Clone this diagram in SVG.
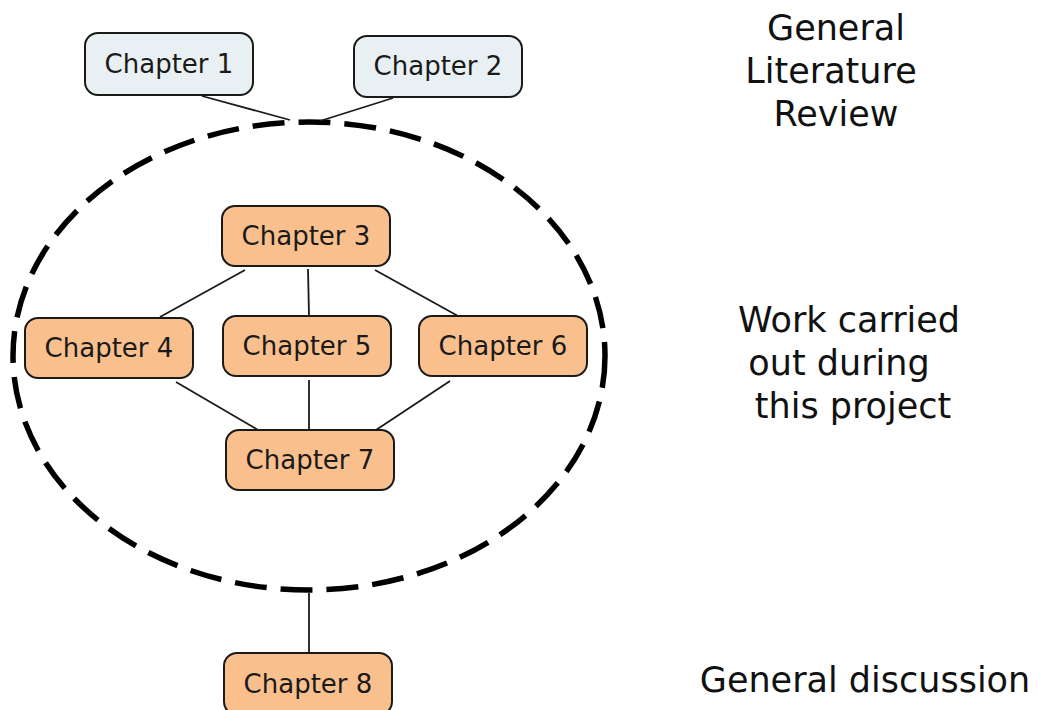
<svg xmlns="http://www.w3.org/2000/svg" width="1038" height="710" viewBox="0 0 1038 710">
  <style>
    .box { stroke: #1a1a1a; stroke-width: 2; }
    .lit { fill: #e9f0f3; }
    .work { fill: #f9c08e; }
    .lbl { font-family: "DejaVu Sans", Verdana, sans-serif; font-size: 26px; fill: #1a1a1a; text-anchor: middle; }
    .note { font-family: "DejaVu Sans", Verdana, sans-serif; font-size: 35px; fill: #111; text-anchor: middle; }
    .conn { stroke: #1a1a1a; stroke-width: 1.8; fill: none; }
  </style>
  <rect width="1038" height="710" fill="#ffffff"/>

  <!-- boundary of the project work -->
  <ellipse id="project-boundary" cx="309" cy="356" rx="296" ry="234" fill="none" stroke="#000" stroke-width="5.5" stroke-dasharray="32 14"/>

  <g id="connectors">
    <line class="conn" x1="202" y1="96" x2="290" y2="120"/>
    <line class="conn" x1="393" y1="98" x2="320" y2="121"/>
    <line class="conn" x1="245" y1="270" x2="160" y2="317"/>
    <line class="conn" x1="308" y1="269" x2="309" y2="316"/>
    <line class="conn" x1="375" y1="270" x2="458" y2="316"/>
    <line class="conn" x1="176" y1="382" x2="258" y2="430"/>
    <line class="conn" x1="309" y1="380" x2="309" y2="430"/>
    <line class="conn" x1="450" y1="381" x2="376" y2="430"/>
    <line class="conn" x1="309" y1="593" x2="309" y2="653"/>
  </g>

  <g id="chapter1">
    <rect class="box lit" x="85" y="33" width="168" height="62" rx="13"/>
    <text class="lbl" x="169" y="73">Chapter 1</text>
  </g>
  <g id="chapter2">
    <rect class="box lit" x="354" y="36" width="168" height="61" rx="13"/>
    <text class="lbl" x="438" y="75">Chapter 2</text>
  </g>
  <g id="chapter3">
    <rect class="box work" x="222" y="206" width="168" height="60" rx="13"/>
    <text class="lbl" x="306" y="245">Chapter 3</text>
  </g>
  <g id="chapter4">
    <rect class="box work" x="25" y="318" width="168" height="60" rx="13"/>
    <text class="lbl" x="109" y="357">Chapter 4</text>
  </g>
  <g id="chapter5">
    <rect class="box work" x="223" y="316" width="168" height="60" rx="13"/>
    <text class="lbl" x="307" y="355">Chapter 5</text>
  </g>
  <g id="chapter6">
    <rect class="box work" x="419" y="316" width="168" height="60" rx="13"/>
    <text class="lbl" x="503" y="355">Chapter 6</text>
  </g>
  <g id="chapter7">
    <rect class="box work" x="226" y="430" width="168" height="60" rx="13"/>
    <text class="lbl" x="310" y="469">Chapter 7</text>
  </g>
  <g id="chapter8">
    <rect class="box work" x="224" y="653" width="168" height="62" rx="13"/>
    <text class="lbl" x="308" y="693">Chapter 8</text>
  </g>

  <g id="notes">
    <text class="note" x="836" y="40">General</text>
    <text class="note" x="831" y="83">Literature</text>
    <text class="note" x="836" y="126">Review</text>
    <text class="note" x="849" y="332">Work carried</text>
    <text class="note" x="839" y="375">out during</text>
    <text class="note" x="853" y="418">this project</text>
    <text class="note" x="865" y="692">General discussion</text>
  </g>
</svg>
